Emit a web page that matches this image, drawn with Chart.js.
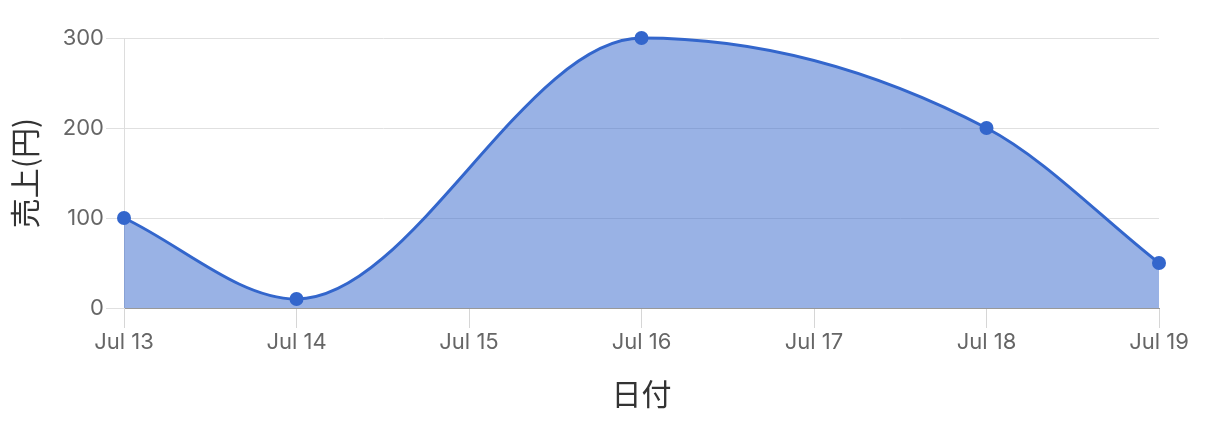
<!DOCTYPE html>
<html>
<head>
<meta charset="utf-8">
<script src="https://cdn.jsdelivr.net/npm/chart.js@4"></script>
<style>
  html, body { margin: 0; padding: 0; background: #fff; }
  #wrap { width: 1208px; height: 428px; position: relative; }
</style>
</head>
<body>
<div id="wrap"><canvas id="salesChart"></canvas></div>
<script>
// 日付ごとの売上
const days = [13, 14, 16, 18, 19];
const sales = [100, 10, 300, 200, 50];
const monthLabel = 'Jul';
const yTicks = [0, 100, 200, 300];

const tickFont = 'Inter, "Liberation Sans", Arial, sans-serif';
const titleFont = '"Noto Sans CJK JP", sans-serif';
const lineColor = '#3366cc';

const points = days.map((d, i) => ({ x: d, y: sales[i] }));

new Chart(document.getElementById('salesChart'), {
  type: 'line',
  data: {
    datasets: [{
      label: '売上',
      data: points,
      borderColor: lineColor,
      backgroundColor: 'rgba(51, 102, 204, 0.5)',
      borderWidth: 3,
      fill: 'origin',
      clip: false,
      cubicInterpolationMode: 'monotone',
      pointRadius: 7,
      pointBackgroundColor: lineColor,
      pointBorderColor: lineColor,
      pointBorderWidth: 0
    }]
  },
  options: {
    responsive: true,
    maintainAspectRatio: false,
    animation: false,
    layout: { padding: { top: 38, right: 49, bottom: 0, left: 0 } },
    plugins: {
      legend: { display: false },
      tooltip: { enabled: false }
    },
    scales: {
      x: {
        type: 'linear',
        min: days[0],
        max: days[days.length - 1],
        afterFit: s => { s.height = 120; },
        border: { color: '#999', width: 1 },
        grid: { drawOnChartArea: false, color: '#d6d6d6', tickLength: 20 },
        ticks: {
          stepSize: 1,
          color: '#666',
          padding: 1,
          font: { family: tickFont, size: 22 },
          callback: v => monthLabel + ' ' + v
        },
        title: {
          display: true,
          text: '日付',
          color: '#333',
          font: { family: titleFont, size: 30 },
          padding: { top: 0, bottom: 16 }
        }
      },
      y: {
        min: 0,
        max: 300,
        afterFit: s => { s.width = 124; },
        afterBuildTicks: s => { s.ticks = yTicks.map(v => ({ value: v })); },
        border: { color: '#dddddd', width: 1 },
        grid: { color: '#e0e0e0', tickLength: 18 },
        ticks: {
          color: '#666',
          padding: 2,
          font: { family: tickFont, size: 22 }
        },
        title: {
          display: true,
          text: '売上(円)',
          color: '#333',
          font: { family: titleFont, size: 30 },
          padding: { top: 7, bottom: 0 }
        }
      }
    }
  }
});
</script>
</body>
</html>
